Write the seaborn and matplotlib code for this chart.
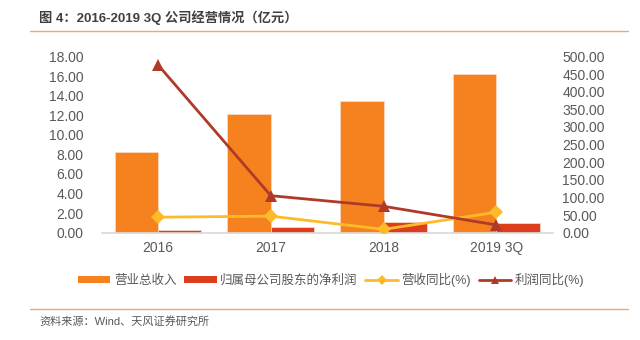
import matplotlib
matplotlib.use("Agg")
import matplotlib.pyplot as plt
from matplotlib.lines import Line2D
from matplotlib.patches import Patch
import numpy as np
import pandas as pd
import seaborn as sns

# ---- data ----
categories = ["2016", "2017", "2018", "2019 3Q"]
revenue = [8.25, 12.15, 13.42, 16.25]          # 营业总收入 (亿元)
net_profit = [0.27, 0.58, 1.05, 0.95]          # 归属母公司股东的净利润 (亿元)
revenue_yoy = [44.0, 47.0, 9.5, 58.0]          # 营收同比(%)
profit_yoy = [476.0, 105.0, 75.0, 22.0]        # 利润同比(%)
left_ticks = [0, 2, 4, 6, 8, 10, 12, 14, 16, 18]
right_ticks = [0, 50, 100, 150, 200, 250, 300, 350, 400, 450, 500]

series_names = ["营业总收入", "归属母公司股东的净利润", "营收同比(%)", "利润同比(%)"]
c_rev = "#F5821F"
c_np = "#DC3D1C"
c_ryoy = "#FDBB2A"
c_pyoy = "#B03A28"
txt = "#595959"

sns.set_theme(style="white")
plt.rcParams["font.family"] = ["Liberation Sans", "Noto Sans CJK SC", "DejaVu Sans"]

df = pd.DataFrame({
    "cat": categories * 2,
    "val": revenue + net_profit,
    "series": [series_names[0]] * 4 + [series_names[1]] * 4,
})

fig = plt.figure(figsize=(6.4, 3.4), dpi=100)
ax = fig.add_axes([101.7 / 640, 1 - 232.7 / 340, 451 / 640, 176.2 / 340])

sns.barplot(data=df, x="cat", y="val", hue="series", order=categories,
            hue_order=series_names[:2], palette=[c_rev, c_np], width=0.77,
            ax=ax, legend=False, edgecolor="#FBD6C0", linewidth=0.6, saturation=1)
ax.set_ylim(0, 18)
ax.set_xlim(-0.5, 3.5)
ax.set_yticks(left_ticks)
ax.set_yticklabels([f"{v:.2f}" for v in left_ticks])
ax.set_xlabel("")
ax.set_ylabel("")

ax2 = ax.twinx()
x = np.arange(len(categories))
sns.lineplot(x=x, y=revenue_yoy, ax=ax2, color=c_ryoy, marker="D", markersize=7,
             markeredgewidth=0, linewidth=2)
sns.lineplot(x=x, y=profit_yoy, ax=ax2, color=c_pyoy, marker="^", markersize=9,
             markeredgewidth=0, linewidth=2)
ax2.set_ylim(0, 500)
ax2.set_yticks(right_ticks)
ax2.set_yticklabels([f"{v:.2f}" for v in right_ticks])
ax2.set_xlim(-0.5, 3.5)

for a in (ax, ax2):
    for s in ["top", "left", "right"]:
        a.spines[s].set_visible(False)
    a.spines["bottom"].set_color("#D9D9D9")
    a.tick_params(axis="both", length=0, labelsize=10, colors=txt)
ax2.spines["bottom"].set_visible(False)
ax.tick_params(axis="y", pad=13)
ax2.tick_params(axis="y", pad=7)
ax.tick_params(axis="x", pad=6)

handles = [
    Patch(facecolor=c_rev, edgecolor="none"),
    Patch(facecolor=c_np, edgecolor="none"),
    Line2D([], [], color=c_ryoy, marker="D", markersize=5, markeredgewidth=0, linewidth=2),
    Line2D([], [], color=c_pyoy, marker="^", markersize=6, markeredgewidth=0, linewidth=2),
]
fig.legend(handles, series_names, loc="center", bbox_to_anchor=(331 / 640, 1 - 280 / 340),
           ncol=4, frameon=False, fontsize=9, labelcolor=txt, handlelength=2.6,
           handleheight=0.55, handletextpad=0.3, columnspacing=0.6)

fig.text(39 / 640, 1 - 18 / 340, "图 4：2016-2019 3Q 公司经营情况（亿元）", fontsize=9.5,
         fontweight="bold", color="#404040", va="center", ha="left")
fig.add_artist(Line2D([30 / 640, 628 / 640], [1 - 31 / 340, 1 - 31 / 340], color="#F4A76B", linewidth=1))
fig.add_artist(Line2D([30 / 640, 628 / 640], [1 - 309.3 / 340, 1 - 309.3 / 340], color="#F4A76B", linewidth=1))
fig.text(39 / 640, 1 - 321 / 340, "资料来源：Wind、天风证券研究所", fontsize=8,
         color=txt, va="center", ha="left")

fig.savefig("out.png", dpi=100)
